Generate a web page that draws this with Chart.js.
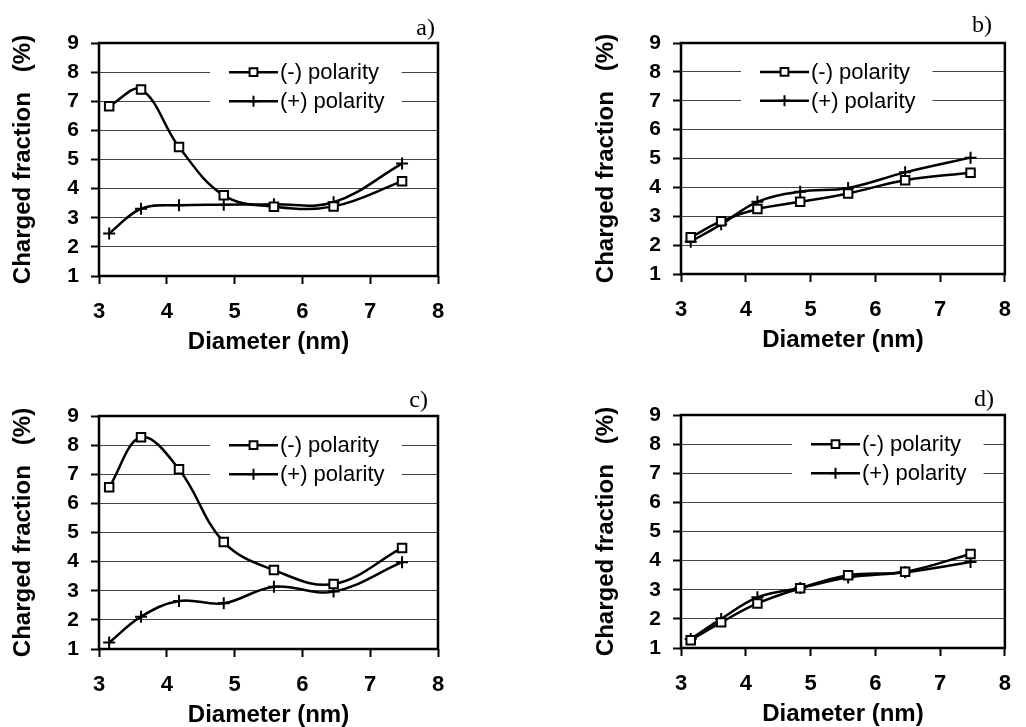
<!DOCTYPE html>
<html>
<head>
<script src="https://cdn.jsdelivr.net/npm/chart.js@4.4.1/dist/chart.umd.min.js"></script>
<style>
  body { margin: 0; background: #fff; }
  canvas { position: absolute; }
</style>
</head>
<body>
<canvas id="pa" width="513" height="363" style="left:0;top:0"></canvas>
<canvas id="pb" width="513" height="363" style="left:513px;top:0"></canvas>
<canvas id="pc" width="513" height="364" style="left:0;top:363px"></canvas>
<canvas id="pd" width="513" height="364" style="left:513px;top:363px"></canvas>
<script>
// particle diameters (nm), same for all four panels
var diameter = [3.15, 3.62, 4.18, 4.84, 5.58, 6.46, 7.47];

// charged fraction (%)
var aNeg = [6.83, 7.40, 5.43, 3.77, 3.38, 3.39, 4.25];
var aPos = [2.46, 3.31, 3.43, 3.45, 3.46, 3.53, 4.86];
var bNeg = [2.27, 2.83, 3.25, 3.50, 3.79, 4.25, 4.51];
var bPos = [2.12, 2.72, 3.50, 3.85, 3.98, 4.52, 5.03];
var cNeg = [6.55, 8.27, 7.17, 4.67, 3.71, 3.23, 4.47];
var cPos = [1.22, 2.11, 2.65, 2.57, 3.14, 2.97, 3.98];
var dNeg = [1.27, 1.88, 2.53, 3.05, 3.50, 3.62, 4.23];
var dPos = [1.31, 2.00, 2.74, 3.06, 3.42, 3.60, 3.95];

var xTicks = [3, 4, 5, 6, 7, 8];
var yTicks = [1, 2, 3, 4, 5, 6, 7, 8, 9];
var seriesNames = ["(-) polarity", "(+) polarity"];

Chart.defaults.font.family = '"Liberation Sans", Arial, sans-serif';
Chart.defaults.color = "#000";

// white legend box inside the plot, frame and panel letter
var panelDecor = {
  id: "panelDecor",
  beforeDatasetsDraw: function (chart, args, opts) {
    var ctx = chart.ctx;
    var area = chart.chartArea;
    var ys = chart.scales.y;
    var r1 = ys.getPixelForValue(8);
    var r2 = ys.getPixelForValue(7);
    var x0 = area.left + opts.legendX;
    ctx.save();
    ctx.font = '22px "Liberation Sans", Arial, sans-serif';
    var tw = 0;
    chart.data.datasets.forEach(function (ds) {
      tw = Math.max(tw, ctx.measureText(ds.label).width);
    });
    ctx.fillStyle = "#fff";
    ctx.fillRect(x0 - 19, r1 - 13, 19 + 51 + tw + 17, r2 - r1 + 26);

    // plot frame
    ctx.strokeStyle = "#000";
    ctx.lineWidth = 2.5;
    ctx.strokeRect(area.left, area.top, area.right - area.left, area.bottom - area.top);

    // legend entries
    chart.data.datasets.forEach(function (ds, i) {
      var ry = i === 0 ? r1 : r2;
      ctx.strokeStyle = "#000";
      ctx.lineWidth = 2.5;
      ctx.beginPath();
      ctx.moveTo(x0, ry);
      ctx.lineTo(x0 + 49, ry);
      ctx.stroke();
      ctx.fillStyle = "#fff";
      ctx.lineWidth = 2;
      Chart.helpers.drawPoint(ctx, {
        pointStyle: ds.pointStyle, radius: ds.pointRadius - 0.5,
        borderWidth: 2, rotation: 0
      }, x0 + 24.5, ry);
      ctx.fillStyle = "#000";
      ctx.textAlign = "left";
      ctx.textBaseline = "middle";
      ctx.fillText(ds.label, x0 + 51, ry + 1);
    });

    ctx.font = '24px "Liberation Serif", "Times New Roman", serif';
    ctx.textAlign = "right";
    ctx.textBaseline = "alphabetic";
    ctx.fillText(opts.tag, area.right + opts.tagDx, area.top - opts.tagDy);
    ctx.restore();
  }
};

function points(ys) {
  return diameter.map(function (d, i) { return { x: d, y: ys[i] }; });
}

function makePanel(id, neg, pos, pad, yWidth, deco) {
  new Chart(document.getElementById(id), {
    type: "line",
    data: {
      datasets: [
        {
          label: seriesNames[0],
          data: points(neg),
          borderColor: "#000",
          borderWidth: 2.5,
          tension: 0.38,
          pointStyle: "rect",
          pointRadius: 6,
          pointBorderWidth: 2,
          pointBorderColor: "#000",
          pointBackgroundColor: "#fff"
        },
        {
          label: seriesNames[1],
          data: points(pos),
          borderColor: "#000",
          borderWidth: 2.5,
          tension: 0.38,
          pointStyle: "cross",
          pointRadius: 6,
          pointBorderWidth: 2,
          pointBorderColor: "#000",
          pointBackgroundColor: "#000"
        }
      ]
    },
    options: {
      responsive: false,
      animation: false,
      events: [],
      layout: { padding: pad },
      plugins: {
        legend: { display: false },
        tooltip: { enabled: false },
        panelDecor: deco
      },
      scales: {
        x: {
          type: "linear",
          min: 3,
          max: 8,
          afterBuildTicks: function (s) { s.ticks = xTicks.map(function (v) { return { value: v }; }); },
          afterFit: function (s) { s.height = 78; },
          grid: { drawOnChartArea: false, tickLength: 8, tickColor: "#000", tickWidth: 2 },
          border: { display: false },
          ticks: { font: { size: 22, weight: "bold" }, padding: 15, maxRotation: 0 },
          title: {
            display: true,
            text: "Diameter (nm)",
            font: { size: 24, weight: "bold" },
            padding: { top: 0, bottom: -3 }
          }
        },
        y: {
          type: "linear",
          min: 1,
          max: 9,
          afterBuildTicks: function (s) { s.ticks = yTicks.map(function (v) { return { value: v }; }); },
          afterFit: function (s) { s.width = yWidth; },
          grid: { color: "#444", lineWidth: 1, tickLength: 8, tickColor: "#000", tickWidth: 2 },
          border: { display: false },
          ticks: { font: { size: 21, weight: "bold" }, padding: 12 },
          title: {
            display: true,
            text: "Charged fraction   (%)",
            font: { size: 24, weight: "bold" },
            padding: 0
          }
        }
      }
    },
    plugins: [panelDecor]
  });
}

makePanel("pa", aNeg, aPos, { left: 9, top: 43, right: 75, bottom: 9 }, 90,
  { legendX: 130, tag: "a)", tagDx: -3, tagDy: 8 });
makePanel("pb", bNeg, bPos, { left: 79, top: 43, right: 12, bottom: 11 }, 89,
  { legendX: 79, tag: "b)", tagDx: -13, tagDy: 11 });
makePanel("pc", cNeg, cPos, { left: 9, top: 53, right: 75, bottom: 0 }, 90,
  { legendX: 130, tag: "c)", tagDx: -10, tagDy: 9 });
makePanel("pd", dNeg, dPos, { left: 79, top: 52, right: 7, bottom: 1 }, 89,
  { legendX: 130, tag: "d)", tagDx: -11, tagDy: 9 });
</script>
</body>
</html>
